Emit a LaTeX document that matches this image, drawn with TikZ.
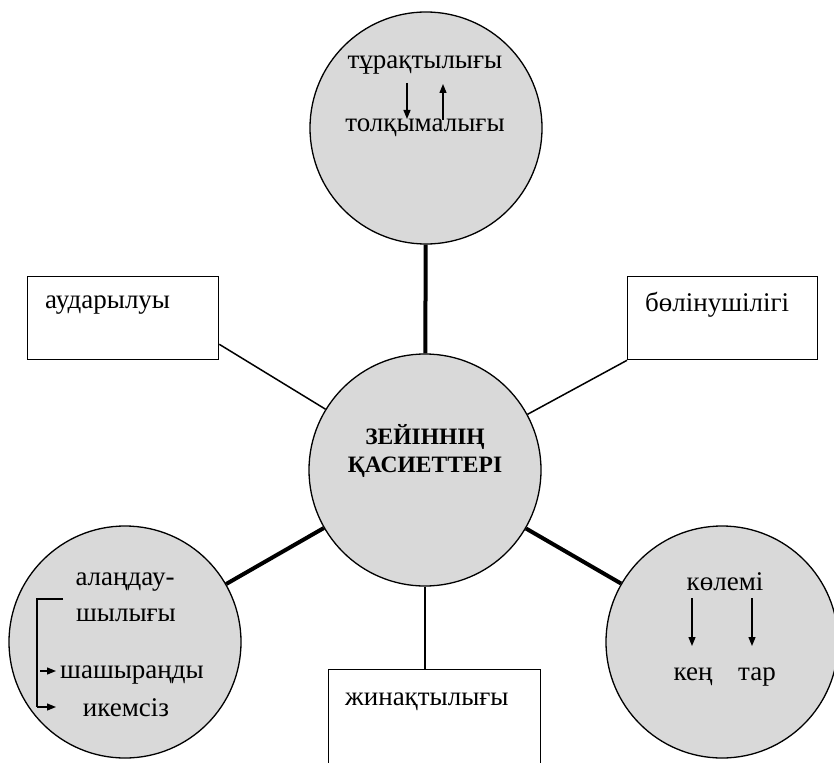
\documentclass[tikz,border=0pt]{standalone}
\usepackage{fontspec}
\setmainfont{Liberation Serif}
\usetikzlibrary{arrows.meta,calc}
\definecolor{gr}{RGB}{217,217,217}
\begin{document}
\begin{tikzpicture}[x=1pt,y=-1pt,
  circ/.style={circle, draw, line width=1.3pt, fill=gr, minimum size=232pt, inner sep=0pt},
  boxnode/.style={draw, line width=1.3pt, rectangle, inner sep=0pt, anchor=north west},
  lbl/.style={font=\fontsize{27}{30}\selectfont, inner sep=0pt},
  title/.style={font=\fontsize{23.5}{26}\selectfont\bfseries, inner sep=0pt},
  thinline/.style={line width=1.5pt},
  heavy/.style={line width=4pt},
  arr/.style={line width=1.3pt, -{Triangle[length=9pt,width=7pt]}}]
\useasboundingbox (0,0) rectangle (834,762);
\fill[white] (0,0) rectangle (834,762);
\begin{scope}
\clip (0,0) rectangle (834,762);
% boxes
\node[boxnode, minimum width=191pt, minimum height=83pt] (bL) at (27,276) {};
\node[boxnode, minimum width=190pt, minimum height=83pt] (bR) at (627,276) {};
\node[boxnode, minimum width=212pt, minimum height=120pt] (bB) at (328,669) {};
% circles
\node[circ] (top) at (426,128) {};
\node[circ] (c) at (425,470) {};
\node[circ] (bl) at (125,642) {};
\node[circ] (br) at (722,642) {};
% connectors
\draw[heavy] (top) -- (c);
\draw[heavy] (c) -- (bl);
\draw[heavy] (c) -- (br);
\coordinate (aL) at ($(bL.south east)+(0,-16)$);
\draw[thinline] (aL) -- (c);
\draw[thinline] (bR.south west) -- (c);
\draw[thinline] (c.south) -- (c.south |- bB.north);
% box texts
\node[lbl, anchor=west] (t1) at (45,305) {аударылуы};
\node[lbl, anchor=west] (t2) at (645,305) {бөлінушілігі};
\node[lbl, anchor=west] (t3) at (345,702) {жинақтылығы};
% center
\node[title] (z1) at (425,437) {ЗЕЙІННІҢ};
\node[title] (z2) at (425,467) {ҚАСИЕТТЕРІ};
% top circle
\node[lbl] (u1) at (425,65) {тұрақтылығы};
\node[lbl] (u2) at (425,128) {толқымалығы};
\coordinate (ua) at (407,83); \coordinate (ub) at (407,119);
\coordinate (uc) at (443,120); \coordinate (ud) at (443,84);
\draw[arr] (ua) -- (ub);
\draw[arr] (uc) -- (ud);
% bottom-left circle
\node[lbl] (l1) at (125,582) {алаңдау-};
\node[lbl] (l2) at (126,615) {шылығы};
\node[lbl] (l3) at (132,675) {шашыраңды};
\node[lbl] (l4) at (126,708) {икемсіз};
\coordinate (k1) at (63,599); \coordinate (k2) at (37,599);
\coordinate (k3) at (37,707); \coordinate (k4) at (56,707);
\coordinate (k5) at (40,671); \coordinate (k6) at (56,671);
\draw[line width=1.3pt] (k1) -- (k2) -- (k3);
\draw[arr] (k3) -- (k4);
\draw[arr] (k5) -- (k6);
% bottom-right circle
\node[lbl] (r1) at (725,582) {көлемі};
\node[lbl] (r2) at (693,677) {кең};
\node[lbl] (r3) at (757,677) {тар};
\coordinate (ra) at (692,598); \coordinate (rb) at (692,646);
\coordinate (rc) at (752,598); \coordinate (rd) at (752,646);
\draw[arr] (ra) -- (rb);
\draw[arr] (rc) -- (rd);
\end{scope}
\end{tikzpicture}
\end{document}
